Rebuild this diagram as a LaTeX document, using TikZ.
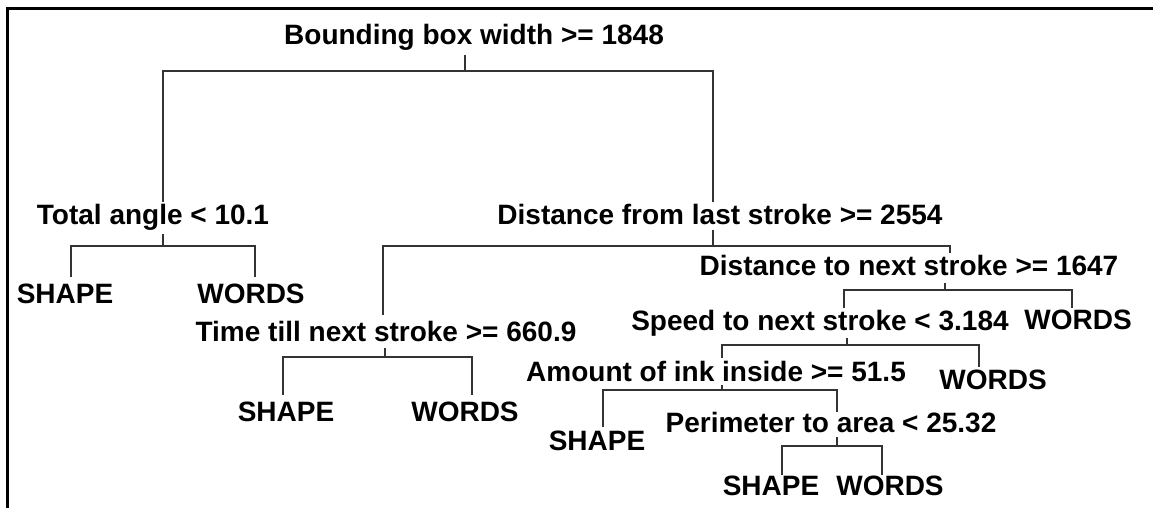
\documentclass[tikz,border=0pt]{standalone}
\usepackage{fontspec}
\setmainfont{Liberation Sans}

\tikzset{
  lbl/.style={anchor=base, inner sep=0pt, font=\bfseries\fontsize{28}{32}\selectfont},
  edge/.style={draw=black!80, line width=1.3pt}
}

\begin{document}
\begin{tikzpicture}[x=1pt, y=-1pt]
      \useasboundingbox (0,0) rectangle (1153,508);
      \draw[line width=3pt] (7,508) -- (7,9) -- (1153,9);
      % decisions
      \node[lbl] (root)   at (474, 45)  {Bounding box width >= 1848};
      \node[lbl] (total)  at (153, 224) {Total angle < 10.1};
      \node[lbl] (dist)   at (720, 224) {Distance from last stroke >= 2554};
      \node[lbl] (dnext)  at (909, 275) {Distance to next stroke >= 1647};
      \node[lbl] (speed)  at (820, 330) {Speed to next stroke < 3.184};
      \node[lbl] (time)   at (386, 341) {Time till next stroke >= 660.9};
      \node[lbl] (amount) at (716, 381) {Amount of ink inside >= 51.5};
      \node[lbl] (perim)  at (831, 432) {Perimeter to area < 25.32};
      % leaves
      \node[lbl] (shapeA) at (65, 303)   {SHAPE};
      \node[lbl] (wordsA) at (251, 303)  {WORDS};
      \node[lbl] (wordsB) at (1078, 329) {WORDS};
      \node[lbl] (shapeC) at (286, 421)  {SHAPE};
      \node[lbl] (wordsC) at (465, 421)  {WORDS};
      \node[lbl] (wordsD) at (993, 389)  {WORDS};
      \node[lbl] (shapeE) at (597, 450)  {SHAPE};
      \node[lbl] (shapeF) at (771, 495)  {SHAPE};
      \node[lbl] (wordsF) at (890, 495)  {WORDS};
      % connector ends
      \coordinate (root-s)   at (465, 55);
      \coordinate (total-n)  at (163, 202);
      \coordinate (dist-n)   at (713, 202);
      \coordinate (total-s)  at (163, 234);
      \coordinate (shapeA-n) at (71, 277);
      \coordinate (wordsA-n) at (255, 277);
      \coordinate (dist-s)   at (713, 230);
      \coordinate (time-n)   at (383, 315);
      \coordinate (dnext-n)  at (950, 253);
      \coordinate (dnext-s)  at (945, 283);
      \coordinate (speed-n)  at (844, 308);
      \coordinate (wordsB-n) at (1072, 308);
      \coordinate (time-s)   at (385, 348);
      \coordinate (shapeC-n) at (283, 395);
      \coordinate (wordsC-n) at (472, 395);
      \coordinate (speed-s)  at (847, 338);
      \coordinate (amount-n) at (722, 358);
      \coordinate (wordsD-n) at (979, 367);
      \coordinate (amount-s) at (722, 385);
      \coordinate (shapeE-n) at (603, 427);
      \coordinate (perim-n)  at (837, 412);
      \coordinate (perim-s)  at (837, 437);
      \coordinate (shapeF-n) at (782, 475);
      \coordinate (wordsF-n) at (882, 475);
      % branches
      \draw[edge] (root-s) -- ++(0,16) -| (total-n);
      \draw[edge] (root-s) ++(0,16) -| (dist-n);
      \draw[edge] (total-s) -- ++(0,12) -| (shapeA-n);
      \draw[edge] (total-s) ++(0,12) -| (wordsA-n);
      \draw[edge] (dist-s) -- ++(0,16) -| (time-n);
      \draw[edge] (dist-s) ++(0,16) -| (dnext-n);
      \draw[edge] (dnext-s) -- ++(0,7) -| (speed-n);
      \draw[edge] (dnext-s) ++(0,7) -| (wordsB-n);
      \draw[edge] (time-s) -- ++(0,9) -| (shapeC-n);
      \draw[edge] (time-s) ++(0,9) -| (wordsC-n);
      \draw[edge] (speed-s) -- ++(0,7) -| (amount-n);
      \draw[edge] (speed-s) ++(0,7) -| (wordsD-n);
      \draw[edge] (amount-s) -- ++(0,5) -| (shapeE-n);
      \draw[edge] (amount-s) ++(0,5) -| (perim-n);
      \draw[edge] (perim-s) -- ++(0,9) -| (shapeF-n);
      \draw[edge] (perim-s) ++(0,9) -| (wordsF-n);
\end{tikzpicture}
\end{document}
